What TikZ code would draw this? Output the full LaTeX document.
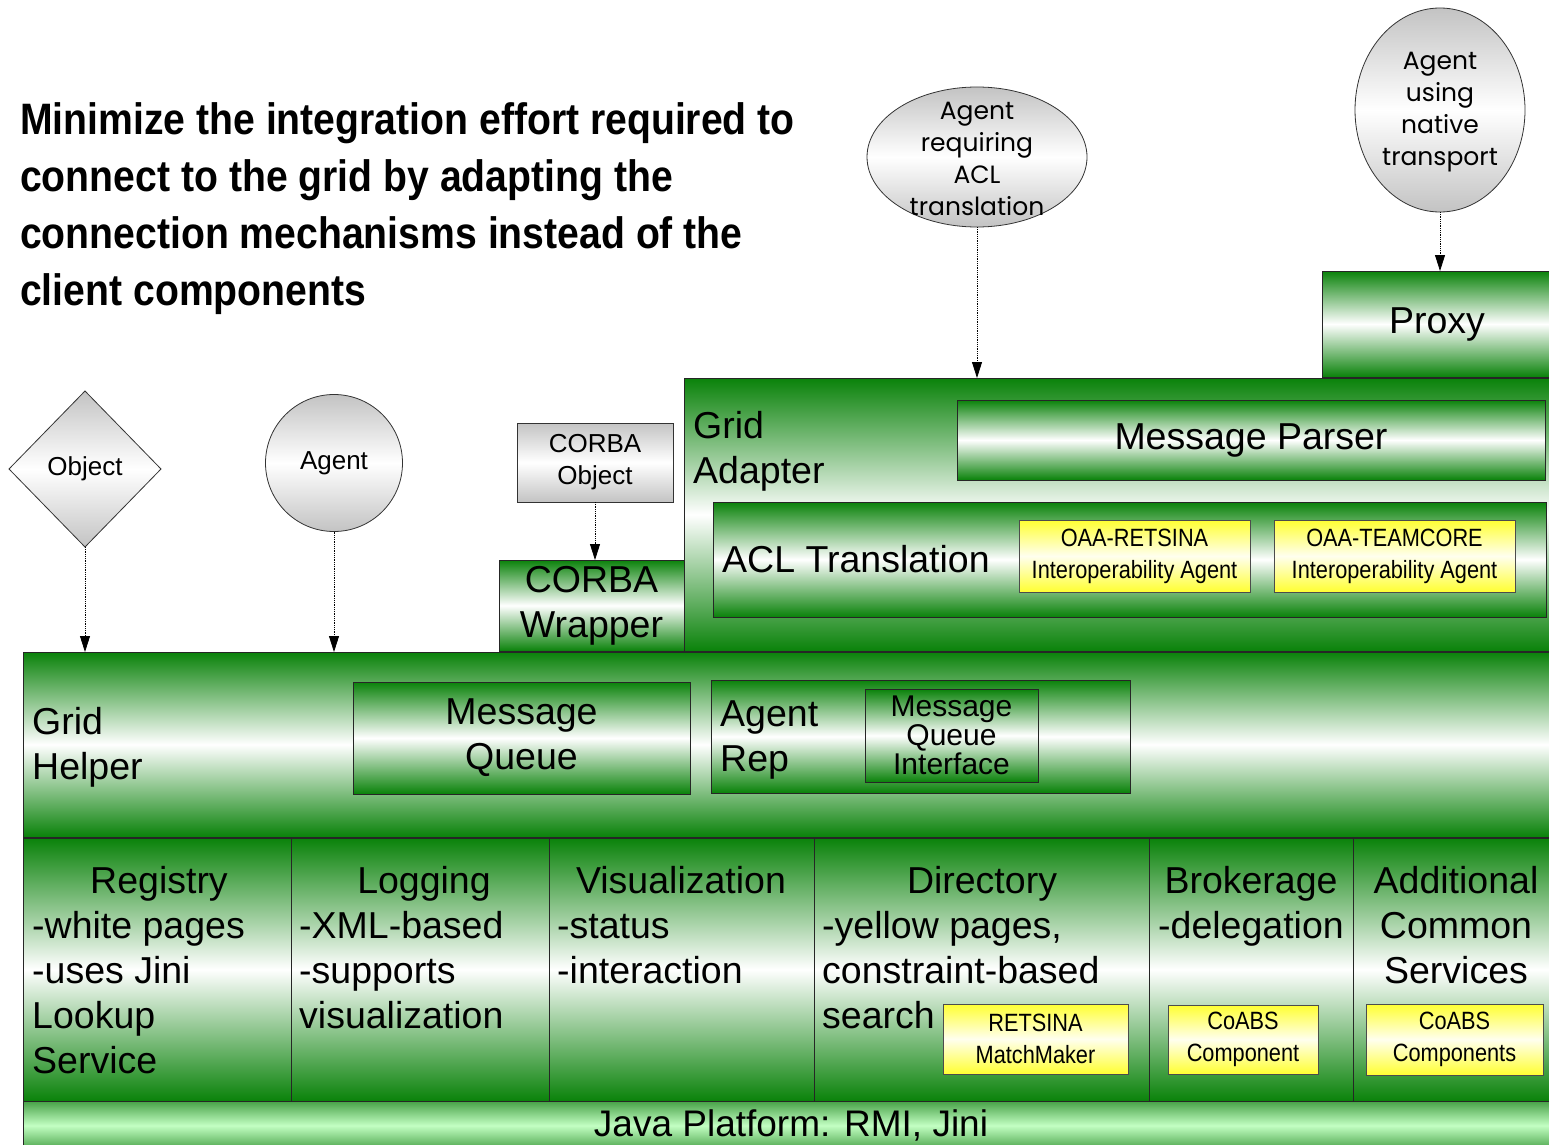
\documentclass[tikz,border=0pt]{standalone}
\usepackage{fontspec}
\setmainfont{Liberation Sans}
\newfontfamily\narrowfont[FakeStretch=0.87]{Liberation Sans}
\newfontfamily\headfont[FakeStretch=0.89]{Liberation Sans Bold}
\newfontfamily\roundfont{Poppins}
\usetikzlibrary{shapes.geometric, arrows.meta, positioning, calc}
\definecolor{gridgreen}{RGB}{10,130,10}
\definecolor{palegreen}{RGB}{195,255,195}
\definecolor{oaayellow}{RGB}{255,255,50}
\definecolor{thinggray}{RGB}{195,195,195}
\tikzset{
  layer/.style={draw=black!85, line width=1pt, inner sep=0pt, outer sep=0pt, anchor=north west,
    top color=gridgreen, bottom color=gridgreen, middle color=white,
    font=\fontsize{37.5}{45}\selectfont, align=center},
  oaabox/.style={draw=black!70, line width=0.8pt, inner sep=0pt, outer sep=0pt, anchor=north west,
    top color=oaayellow, bottom color=oaayellow, middle color=oaayellow!8,
    font=\narrowfont\fontsize{25}{32}\selectfont, align=center},
  thing/.style={draw=black!80, line width=0.8pt, inner sep=0pt, outer sep=0pt,
    top color=thinggray, bottom color=thinggray, middle color=white},
  thingtxt/.style={font=\fontsize{26}{32}\selectfont, align=center, inner sep=0pt},
  lbl/.style={font=\fontsize{37.5}{45}\selectfont, align=left, inner sep=0pt, anchor=base west},
  ttl/.style={font=\fontsize{37.5}{45}\selectfont, align=center, inner sep=0pt, anchor=base},
  uses/.style={densely dotted, line width=0.8pt, -{Triangle[length=16pt,width=10pt]}},
}
\begin{document}
\begin{tikzpicture}[x=1pt, y=-1pt]
  \useasboundingbox (0,0) rectangle (1549,1145);

  % headline (base anchor sits on the last line)
  \node[font=\headfont\fontsize{44}{57}\selectfont, align=left, inner sep=0pt, anchor=base west]
    (headline) at (20,305)
    {Minimize the integration effort required to\\connect to the grid by adapting the\\
     connection mechanisms instead of the\\client components};

  % clients on top
  \node[thing, diamond, minimum width=152pt, minimum height=156pt] (object) at (85,469) {};
  \node[thingtxt] at (object) {Object};
  \node[thing, circle, minimum size=137pt] (agent) at (334,463) {};
  \node[thingtxt] at (agent) {Agent};
  \node[thing, anchor=north west, minimum width=156pt, minimum height=79pt, thingtxt]
    (corbaobj) at (517,423) {CORBA\\Object};
  \node[thing, ellipse, minimum width=220pt, minimum height=140pt] (aclagent) at (977,157) {};
  \node[thingtxt, font=\roundfont\fontsize{25}{32}\selectfont] at ([yshift=-2pt]aclagent)
    {Agent\\requiring\\ACL\\translation};
  \node[thing, ellipse, minimum width=170pt, minimum height=204pt] (nativeagent) at (1440,110) {};
  \node[thingtxt, font=\roundfont\fontsize{25}{32}\selectfont] at ([yshift=-2pt]nativeagent)
    {Agent\\using\\native\\transport};

  % grid adapter and proxy
  \node[layer, minimum width=868pt, minimum height=273pt] (adapter) at (684,378) {};
  \node[lbl] at (693,483) {Grid\\Adapter};
  \node[layer, minimum width=230pt, minimum height=106pt] (proxy) at (1322,271) {Proxy};
  \node[layer, minimum width=588pt, minimum height=80pt] (parser) at (957,400) {Message Parser};
  \node[layer, minimum width=833pt, minimum height=115pt] (acl) at (713,502) {};
  \node[lbl] at (722,572) {ACL Translation};
  \node[oaabox, minimum width=231pt, minimum height=72pt] (retsina) at (1019,520)
    {OAA-RETSINA\\Interoperability Agent};
  \node[oaabox, minimum width=241pt, minimum height=72pt] (teamcore) at (1274,520)
    {OAA-TEAMCORE\\Interoperability Agent};
  \node[layer, minimum width=185pt, minimum height=91pt] (wrapper) at (499,560) {CORBA\\Wrapper};

  % grid helper
  \node[layer, minimum width=1529pt, minimum height=185pt] (helper) at (23,652) {};
  \node[lbl] at (32,779) {Grid\\Helper};
  \node[layer, minimum width=337pt, minimum height=112pt] (queue) at (353,682) {Message\\Queue};
  \node[layer, minimum width=419pt, minimum height=113pt] (agentrep) at (711,680) {};
  \node[lbl] at (720,771) {Agent\\Rep};
  \node[layer, minimum width=173pt, minimum height=93pt, font=\fontsize{30}{29}\selectfont]
    (mqi) at (865,689) {Message\\Queue\\Interface};

  % common services
  \node[layer, minimum width=268pt, minimum height=263pt] (registry) at (23,838) {};
  \node[layer, minimum width=258pt, minimum height=263pt] (logging) at (291,838) {};
  \node[layer, minimum width=265pt, minimum height=263pt] (visual) at (549,838) {};
  \node[layer, minimum width=335pt, minimum height=263pt] (directory) at (814,838) {};
  \node[layer, minimum width=204pt, minimum height=263pt] (brokerage) at (1149,838) {};
  \node[layer, minimum width=199pt, minimum height=263pt] (extra) at (1353,838) {};

  \node[ttl] at (159,893) {Registry};
  \node[lbl] at (32,1073) {-white pages\\-uses Jini\\Lookup\\Service};
  \node[ttl] at (424,893) {Logging};
  \node[lbl] at (299,1028) {-XML-based\\-supports\\visualization};
  \node[ttl] at (681,893) {Visualization};
  \node[lbl] at (557,983) {-status\\-interaction};
  \node[ttl] at (982,893) {Directory};
  \node[lbl] at (822,1028) {-yellow pages,\\constraint-based\\search};
  \node[ttl] at (1251,893) {Brokerage};
  \node[lbl] at (1158,938) {-delegation};
  \node[ttl] at (1456,983) {Additional\\Common\\Services};

  \node[oaabox, minimum width=185pt, minimum height=70pt] (matchmaker) at (943,1004)
    {RETSINA\\MatchMaker};
  \node[oaabox, minimum width=150pt, minimum height=69pt] (coabs) at (1168,1005)
    {CoABS\\Component};
  \node[oaabox, minimum width=177pt, minimum height=71pt] (coabsmore) at (1366,1004)
    {CoABS\\Components};

  % platform
  \node[layer, minimum width=1529pt, minimum height=49pt, top color=gridgreen!75,
    bottom color=gridgreen!75, middle color=palegreen] (platform) at (23,1101) {};
  \node[font=\fontsize{37}{45}\selectfont, inner sep=0pt] at (791,1125) {Java Platform: RMI, Jini};

  % connections
  \draw[uses] (object.south) -- (object.south |- helper.north);
  \draw[uses] (agent.south) -- (agent.south |- helper.north);
  \draw[uses] (corbaobj.south) -- (corbaobj.south |- wrapper.north);
  \draw[uses] (aclagent.south) -- (aclagent.south |- adapter.north);
  \draw[uses] (nativeagent.south) -- (nativeagent.south |- proxy.north);
\end{tikzpicture}
\end{document}
